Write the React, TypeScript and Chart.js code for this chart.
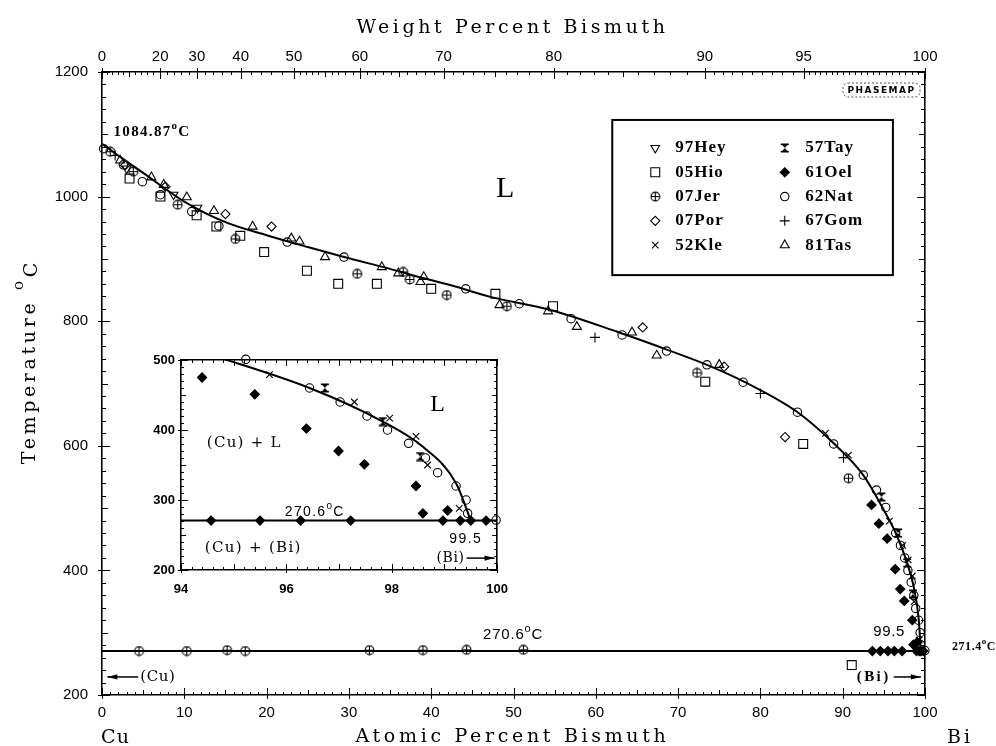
import React, { useEffect, useRef } from 'react';
import { Chart, registerables } from 'chart.js';
import { drawPoint } from 'chart.js/helpers';

Chart.register(...registerables);

// ---------------- data ----------------
const atTicks = [0, 10, 20, 30, 40, 50, 60, 70, 80, 90, 100];
const tempTicks = [200, 400, 600, 800, 1000, 1200];
const wtTicks = [0, 20, 30, 40, 50, 60, 70, 80, 90, 95, 100];
const insetAtTicks = [94, 96, 98, 100];
const insetTempTicks = [200, 300, 400, 500];

const liquidusAt = [0, 2.5, 5, 10, 15, 20, 25, 29.4, 35, 39.1, 42.3, 47.2, 54.5, 62.6, 68.7, 73.5, 78, 84.4, 88.9, 92.5, 94.83, 96.44, 97.83, 98.59, 99.22, 99.5];
const liquidusT = [1084.87, 1061, 1038, 992, 959, 938, 919, 903, 884, 869, 858, 839, 818, 783, 754, 730, 703, 655, 604, 553, 501, 460, 412, 376, 324, 270.6];
const eutecticAt = [0, 100];
const eutecticT = [270.6, 270.6];
const insetEutecticAt = [94, 100];

const hey97: [number, number][] = [[3.0, 1045], [8.7, 1003], [11.6, 982]];
const hio05: [number, number][] = [[3.35, 1029], [7.1, 1000], [11.5, 970], [13.9, 952], [16.8, 937], [19.7, 911], [24.9, 881], [28.7, 860], [33.4, 860], [40.0, 852], [47.8, 844], [54.8, 824], [73.3, 703], [85.2, 603], [91.1, 248]];
const jer07: [number, number][] = [[1.0, 1072], [3.8, 1040], [9.2, 987], [16.2, 932], [31.0, 876], [36.6, 879], [37.4, 867], [41.9, 842], [49.2, 824], [72.3, 717], [90.7, 548], [4.5, 270.6], [10.3, 270.6], [15.2, 272], [17.4, 270.6], [32.5, 272], [39.0, 272], [44.3, 272.5], [51.2, 272.5]];
const por07: [number, number][] = [[2.8, 1050], [7.7, 1016], [15.0, 972], [20.6, 952], [65.7, 790], [75.6, 727], [83.0, 614]];
const kle52: [number, number][] = [[87.9, 620], [90.7, 585], [95.68, 479], [97.29, 440], [97.96, 417], [98.46, 391], [98.68, 350], [99.28, 288]];
const tay57: [number, number][] = [[94.7, 518], [96.73, 460], [97.83, 412], [98.54, 362]];
const oel61: [number, number][] = [[93.5, 505], [94.4, 475], [95.4, 451], [96.38, 402], [96.99, 370], [97.48, 351], [98.46, 320], [98.59, 281], [99.06, 285], [93.6, 270.6], [94.57, 270.6], [95.5, 270.6], [96.27, 270.6], [97.22, 270.6], [98.97, 270.6], [99.3, 270.6], [99.5, 270.6], [99.79, 270.6]];
const nat62: [number, number][] = [[0.2, 1077], [2.6, 1051], [4.9, 1024], [7.1, 1003], [10.9, 976], [14.2, 953], [22.5, 927], [29.4, 903], [44.2, 852], [50.7, 828], [57.0, 804], [63.2, 778], [68.6, 752], [73.5, 730], [77.9, 702], [84.5, 654], [88.9, 603], [92.5, 553], [94.1, 529], [95.23, 501], [96.44, 460], [97.02, 440], [97.53, 420], [97.92, 400], [98.32, 381], [98.64, 360], [98.87, 339], [99.22, 320], [99.41, 300], [99.44, 281], [99.98, 271.4]];
const gom67: [number, number][] = [[1.6, 1066], [59.9, 774], [80.0, 684], [90.1, 581]];
const tas81: [number, number][] = [[2.2, 1058], [6.0, 1031], [7.5, 1019], [10.3, 999], [13.6, 977], [18.3, 952], [23.0, 933], [24.0, 928], [27.1, 903], [34.0, 887], [36.0, 877], [39.1, 871], [38.7, 863], [48.3, 826], [54.2, 816], [57.7, 791], [64.4, 782], [67.4, 745], [75.0, 730]];

const seriesLabels = ['97Hey', '05Hio', '07Jer', '07Por', '52Kle', '57Tay', '61Oel', '62Nat', '67Gom', '81Tas'];
const seriesData = [hey97, hio05, jer07, por07, kle52, tay57, oel61, nat62, gom67, tas81];

// ---------------- styling ----------------
const SANS = '"Liberation Sans", Arial, sans-serif';
const SERIF = '"DejaVu Serif", serif';
const LSERIF = '"Liberation Serif", serif';

function makeOPlus(): HTMLCanvasElement {
  const c = document.createElement('canvas');
  c.width = 11; c.height = 11;
  const g = c.getContext('2d')!;
  g.strokeStyle = '#000'; g.lineWidth = 1.1;
  g.beginPath(); g.arc(5.5, 5.5, 4.4, 0, Math.PI * 2); g.stroke();
  g.beginPath(); g.moveTo(1.1, 5.5); g.lineTo(9.9, 5.5); g.moveTo(5.5, 1.1); g.lineTo(5.5, 9.9); g.stroke();
  return c;
}
function makeHourglass(): HTMLCanvasElement {
  const c = document.createElement('canvas');
  c.width = 10; c.height = 10;
  const g = c.getContext('2d')!;
  g.fillStyle = '#000';
  g.fillRect(1, 0.5, 8, 1.6);
  g.fillRect(1, 7.9, 8, 1.6);
  g.beginPath(); g.moveTo(2, 1.5); g.lineTo(8, 1.5); g.lineTo(5, 5); g.closePath(); g.fill();
  g.beginPath(); g.moveTo(2, 8.5); g.lineTo(8, 8.5); g.lineTo(5, 5); g.closePath(); g.fill();
  return c;
}

type Sty = { pointStyle: any; radius: number; rotation?: number; fill: boolean };
function symbolStyles(): Sty[] {
  const oplus = makeOPlus();
  const hg = makeHourglass();
  return [
    { pointStyle: 'triangle', radius: 5, rotation: 180, fill: false },
    { pointStyle: 'rect', radius: 6.3, fill: false },
    { pointStyle: oplus, radius: 5, fill: false },
    { pointStyle: 'rectRot', radius: 4.6, fill: false },
    { pointStyle: 'crossRot', radius: 4.6, fill: false },
    { pointStyle: hg, radius: 5, fill: true },
    { pointStyle: 'rectRot', radius: 4.6, fill: true },
    { pointStyle: 'circle', radius: 4.2, fill: false },
    { pointStyle: 'cross', radius: 5, fill: false },
    { pointStyle: 'triangle', radius: 5.2, fill: false },
  ];
}

function wtToAt(w: number) {
  if (w <= 0) return 0;
  if (w >= 100) return 100;
  const a = w / 208.98, b = (100 - w) / 63.546;
  return (100 * a) / (a + b);
}

// ---------------- drawing helpers ----------------
type Seg = { t: string; font: string; dy?: number };
function segsWidth(ctx: CanvasRenderingContext2D, segs: Seg[]) {
  let w = 0, n = 0;
  (ctx as any).letterSpacing = '0px';
  for (const s of segs) { ctx.font = s.font; w += ctx.measureText(s.t).width; n += s.t.length; }
  return { w, n };
}
function drawRich(ctx: CanvasRenderingContext2D, segs: Seg[], x: number, y: number, align: 'left' | 'center' | 'right', target?: number, spacing = 0) {
  const { w, n } = segsWidth(ctx, segs);
  let sp = spacing;
  if (target !== undefined) sp = (target - w) / n;
  const total = w + sp * n;
  let cx = align === 'left' ? x : align === 'center' ? x - total / 2 : x - total;
  ctx.textAlign = 'left';
  ctx.textBaseline = 'middle';
  ctx.fillStyle = '#000';
  for (const s of segs) {
    ctx.font = s.font;
    (ctx as any).letterSpacing = '0px';
    const sw = ctx.measureText(s.t).width;
    (ctx as any).letterSpacing = sp + 'px';
    ctx.fillText(s.t, cx, y + (s.dy || 0));
    cx += sw + sp * s.t.length;
  }
  (ctx as any).letterSpacing = '0px';
}
function arrow(ctx: CanvasRenderingContext2D, x1: number, y: number, x2: number) {
  ctx.save();
  ctx.strokeStyle = '#000'; ctx.fillStyle = '#000'; ctx.lineWidth = 1.5;
  ctx.beginPath(); ctx.moveTo(x1, y); ctx.lineTo(x2, y); ctx.stroke();
  const d = Math.sign(x2 - x1);
  ctx.beginPath(); ctx.moveTo(x2, y); ctx.lineTo(x2 - d * 10, y - 2.6); ctx.lineTo(x2 - d * 10, y + 2.6); ctx.closePath(); ctx.fill();
  ctx.restore();
}
type TSpec = { v: number; len: number; out: number };
function tickMarks(ctx: CanvasRenderingContext2D, ca: any, scale: any, side: string, specs: TSpec[]) {
  ctx.save();
  ctx.strokeStyle = '#000'; ctx.lineWidth = 1;
  ctx.beginPath();
  for (const s of specs) {
    const p = Math.round(scale.getPixelForValue(s.v)) + 0.5;
    if (side === 'bottom') { ctx.moveTo(p, ca.bottom + s.out); ctx.lineTo(p, ca.bottom - s.len); }
    if (side === 'top') { ctx.moveTo(p, ca.top - s.out); ctx.lineTo(p, ca.top + s.len); }
    if (side === 'left') { ctx.moveTo(ca.left - s.out, p); ctx.lineTo(ca.left + s.len, p); }
    if (side === 'right') { ctx.moveTo(ca.right + s.out, p); ctx.lineTo(ca.right - s.len, p); }
  }
  ctx.stroke();
  ctx.restore();
}
function range(a: number, b: number, step: number) {
  const out: number[] = [];
  const n = Math.round((b - a) / step);
  for (let i = 0; i <= n; i++) out.push(Math.round((a + i * step) * 1e6) / 1e6);
  return out;
}

function bottomSpecs(): TSpec[] {
  return range(0, 100, 1).map(v => ({ v, len: v % 10 === 0 ? 7 : v % 5 === 0 ? 5 : 3, out: v % 10 === 0 ? 4 : 0 }));
}
function topSpecs(): TSpec[] {
  const ws: number[] = [];
  for (let w = 0; w < 50; w += 2) ws.push(w);
  for (let w = 50; w < 90; w += 1) ws.push(w);
  for (let i = 0; i < 10; i++) ws.push(90 + i * 0.5);
  for (let i = 0; i <= 20; i++) ws.push(95 + i * 0.25);
  return ws.map(w => {
    const lab = wtTicks.includes(w);
    const mid = w % 5 === 0;
    return { v: wtToAt(w), len: lab ? 7 : mid ? 5 : 3, out: lab ? 4 : 0 };
  });
}
function tempSpecs(out: boolean): TSpec[] {
  return range(200, 1200, 20).map(t => ({ v: t, len: t % 200 === 0 ? 8 : t % 100 === 0 ? 6 : 4, out: out && t % 200 === 0 ? 4 : 0 }));
}

function toPts(d: [number, number][]) { return d.map(p => ({ x: p[0], y: p[1] })); }

function scatterSets(styles: Sty[], xId: string, yId: string, filter?: (p: [number, number]) => boolean) {
  return seriesData.map((d, i) => {
    const s = styles[i];
    const data = filter ? d.filter(filter) : d;
    return {
      type: 'scatter' as const,
      label: seriesLabels[i],
      data: toPts(data),
      xAxisID: xId,
      yAxisID: yId,
      pointStyle: s.pointStyle,
      pointRadius: s.radius,
      rotation: s.rotation || 0,
      pointBorderColor: '#000',
      pointBackgroundColor: s.fill ? '#000' : 'rgba(0,0,0,0)',
      pointBorderWidth: 1.1,
      showLine: false,
      clip: false as any,
      order: 2,
    };
  });
}

const axisBase = (extra: any) => ({
  type: 'linear',
  grid: { display: false, drawTicks: false },
  border: { display: true, color: '#000', width: 1.6 },
  ...extra,
});
const plainLabel = (v: any) => String(v);

function mainConfig(styles: Sty[]): any {
  const liq = liquidusAt.map((x, i) => ({ x, y: liquidusT[i] }));
  const eut = eutecticAt.map((x, i) => ({ x, y: eutecticT[i] }));
  const decor = {
    id: 'mainDecor',
    beforeDraw(chart: any) {
      const ctx = chart.ctx;
      ctx.save(); ctx.fillStyle = '#fff'; ctx.fillRect(0, 0, chart.width, chart.height); ctx.restore();
    },
    afterDraw(chart: any) {
      const ctx: CanvasRenderingContext2D = chart.ctx;
      const ca = chart.chartArea;
      const xs = chart.scales.x, ys = chart.scales.y, xt = chart.scales.xt;
      const X = (v: number) => xs.getPixelForValue(v);
      const Y = (v: number) => ys.getPixelForValue(v);
      tickMarks(ctx, ca, xs, 'bottom', bottomSpecs());
      tickMarks(ctx, ca, xt, 'top', topSpecs());
      tickMarks(ctx, ca, ys, 'left', tempSpecs(true));
      tickMarks(ctx, ca, ys, 'right', tempSpecs(false));

      // axis titles
      drawRich(ctx, [{ t: 'Weight Percent Bismuth', font: `19px ${SERIF}` }], (ca.left + ca.right) / 2 - 1, 28, 'center', 312);
      drawRich(ctx, [{ t: 'Atomic Percent Bismuth', font: `19px ${SERIF}` }], (ca.left + ca.right) / 2 - 1, 737, 'center', 314);
      drawRich(ctx, [{ t: 'Cu', font: `19px ${SERIF}` }], ca.left - 1, 738, 'left', 29);
      drawRich(ctx, [{ t: 'Bi', font: `19px ${SERIF}` }], ca.right + 22, 738, 'left', 26);
      ctx.save();
      ctx.translate(30, Y(735));
      ctx.rotate(-Math.PI / 2);
      drawRich(ctx, [
        { t: 'Temperature ', font: `19px ${SERIF}` },
        { t: 'o', font: `15px ${SERIF}`, dy: -11 },
        { t: 'C', font: `19px ${SERIF}`, dy: 2 },
      ], 0, 0, 'center', 205);
      ctx.restore();

      // annotations
      drawRich(ctx, [
        { t: '1084.87', font: `bold 15px ${LSERIF}` },
        { t: 'o', font: `bold 11px ${LSERIF}`, dy: -6 },
        { t: 'C', font: `bold 15px ${LSERIF}` },
      ], X(1.4), Y(1104), 'left', 77);
      drawRich(ctx, [{ t: 'L', font: `30px ${LSERIF}` }], X(49), Y(1012), 'center');
      drawRich(ctx, [
        { t: '270.6', font: `15px ${SANS}` },
        { t: 'o', font: `11px ${SANS}`, dy: -6 },
        { t: 'C', font: `15px ${SANS}` },
      ], X(46.3), Y(296), 'left', 60);
      drawRich(ctx, [{ t: '99.5', font: `15px ${SANS}` }], X(93.7), Y(301), 'left', 32);
      drawRich(ctx, [{ t: '(Bi)', font: `bold 15px ${LSERIF}` }], X(91.7), Y(229), 'left', 34);
      arrow(ctx, X(96.2), Y(229), X(99.5));
      arrow(ctx, X(4.4), Y(229), X(0.65));
      drawRich(ctx, [{ t: '(Cu)', font: `15px ${SERIF}` }], X(4.65), Y(229), 'left', 35);
      drawRich(ctx, [
        { t: '271.4', font: `bold 12px ${LSERIF}` },
        { t: 'o', font: `bold 9px ${LSERIF}`, dy: -5 },
        { t: 'C', font: `bold 12px ${LSERIF}` },
      ], ca.right + 27, Y(277), 'left', 44);

      // PHASEMAP stamp
      ctx.save();
      ctx.strokeStyle = '#555'; ctx.lineWidth = 1; ctx.setLineDash([2, 2]);
      const bx = ca.right - 82, by = ca.top + 11, bw = 77, bh = 14;
      ctx.beginPath();
      (ctx as any).roundRect ? (ctx as any).roundRect(bx, by, bw, bh, 5) : ctx.rect(bx, by, bw, bh);
      ctx.stroke();
      ctx.restore();
      drawRich(ctx, [{ t: 'PHASEMAP', font: `bold 9px "DejaVu Sans", sans-serif` }], bx + bw / 2, by + bh / 2 + 0.5, 'center', 68);

      // legend box
      const lx1 = X(62.0), lx2 = X(96.1), ly1 = Y(1123), ly2 = Y(874);
      ctx.save();
      ctx.strokeStyle = '#000'; ctx.lineWidth = 2;
      ctx.strokeRect(lx1, ly1, lx2 - lx1, ly2 - ly1);
      ctx.restore();
      const rowY = (i: number) => ly1 + 28 + i * 24.3;
      for (let i = 0; i < seriesLabels.length; i++) {
        const col = i < 5 ? 0 : 1;
        const row = i % 5;
        const sx = lx1 + (col === 0 ? 43 : 172.5);
        const tx = lx1 + (col === 0 ? 63 : 193);
        const y = rowY(row);
        const s = styles[i];
        ctx.save();
        ctx.strokeStyle = '#000';
        ctx.fillStyle = s.fill ? '#000' : 'rgba(0,0,0,0)';
        ctx.lineWidth = 1.1;
        drawPoint(ctx, { pointStyle: s.pointStyle, rotation: s.rotation || 0, radius: s.radius, borderWidth: 1.1 } as any, sx, y);
        ctx.restore();
        drawRich(ctx, [{ t: seriesLabels[i], font: `bold 17px ${LSERIF}` }], tx, y, 'left', undefined, 1);
      }
    },
  };

  return {
    type: 'scatter',
    data: {
      datasets: [
        { type: 'scatter', label: 'liquidus', data: liq, xAxisID: 'x', yAxisID: 'y', showLine: true, borderColor: '#000', borderWidth: 2, pointRadius: 0, cubicInterpolationMode: 'monotone', fill: false, order: 1, clip: 0 },
        { type: 'scatter', label: 'eutectic', data: eut, xAxisID: 'x', yAxisID: 'y', showLine: true, borderColor: '#000', borderWidth: 2, pointRadius: 0, fill: false, order: 1, clip: 0 },
        ...scatterSets(styles, 'x', 'y'),
      ],
    },
    options: {
      animation: false,
      responsive: false,
      devicePixelRatio: 1,
      events: [],
      layout: { padding: 0 },
      plugins: { legend: { display: false }, tooltip: { enabled: false }, title: { display: false } },
      scales: {
        x: axisBase({
          position: 'bottom', min: 0, max: 100,
          afterBuildTicks: (a: any) => { a.ticks = atTicks.map(v => ({ value: v })); },
          ticks: { color: '#000', font: { family: SANS, size: 15 }, padding: 9, autoSkip: false, maxRotation: 0, callback: plainLabel },
          afterFit: (a: any) => { a.height = 51; },
        }),
        xt: axisBase({
          position: 'top', min: 0, max: 100,
          afterBuildTicks: (a: any) => { a.ticks = wtTicks.map(w => ({ value: wtToAt(w) })); },
          ticks: { color: '#000', font: { family: SANS, size: 15 }, padding: 6, autoSkip: false, maxRotation: 0, callback: (_v: any, i: number) => String(wtTicks[i]) },
          afterFit: (a: any) => { a.height = 72; },
        }),
        y: axisBase({
          position: 'left', min: 200, max: 1200,
          afterBuildTicks: (a: any) => { a.ticks = tempTicks.map(v => ({ value: v })); },
          ticks: { color: '#000', font: { family: SANS, size: 15 }, padding: 14, autoSkip: false, callback: plainLabel },
          afterFit: (a: any) => { a.width = 102; },
        }),
        yr: axisBase({
          position: 'right', min: 200, max: 1200,
          ticks: { display: false },
          afterFit: (a: any) => { a.width = 71; },
        }),
      },
    },
    plugins: [decor],
  };
}

function insetConfig(styles: Sty[]): any {
  const liq = liquidusAt.map((x, i) => ({ x, y: liquidusT[i] })).filter(p => p.x >= 90);
  const eut = insetEutecticAt.map((x, i) => ({ x, y: eutecticT[i] }));
  const inRange = (p: [number, number]) => p[0] >= 94 && p[0] <= 100 && p[1] >= 200 && p[1] <= 502;
  const decor = {
    id: 'insetDecor',
    beforeDraw(chart: any) {
      const ctx = chart.ctx; const ca = chart.chartArea;
      ctx.save(); ctx.fillStyle = '#fff'; ctx.fillRect(ca.left, ca.top, ca.right - ca.left, ca.bottom - ca.top); ctx.restore();
    },
    afterDraw(chart: any) {
      const ctx: CanvasRenderingContext2D = chart.ctx;
      const ca = chart.chartArea;
      const xs = chart.scales.ix, ys = chart.scales.iy;
      const X = (v: number) => xs.getPixelForValue(v);
      const Y = (v: number) => ys.getPixelForValue(v);
      const xsp = range(94, 100, 0.2).map(v => {
        const isInt = Math.abs(v - Math.round(v)) < 1e-6;
        return { v, len: isInt ? 6 : 3, out: isInt && Math.round(v) % 2 === 0 ? 3 : 0 };
      });
      const ysp = range(200, 500, 10).map(t => ({ v: t, len: t % 100 === 0 ? 7 : t % 50 === 0 ? 5 : 3, out: t % 100 === 0 ? 3 : 0 }));
      tickMarks(ctx, ca, xs, 'bottom', xsp);
      tickMarks(ctx, ca, xs, 'top', xsp.map(s => ({ ...s, out: 0 })));
      tickMarks(ctx, ca, ys, 'left', ysp);
      tickMarks(ctx, ca, ys, 'right', ysp.map(s => ({ ...s, out: 0 })));

      drawRich(ctx, [{ t: 'L', font: `24px ${LSERIF}` }], X(98.87), Y(436), 'center');
      drawRich(ctx, [{ t: '(Cu) + L', font: `15px ${SERIF}` }], X(94.49), Y(381), 'left', 75);
      drawRich(ctx, [
        { t: '270.6', font: `14px ${SANS}` },
        { t: 'o', font: `10px ${SANS}`, dy: -6 },
        { t: 'C', font: `14px ${SANS}` },
      ], X(95.97), Y(283), 'left', 60);
      drawRich(ctx, [{ t: '(Cu) + (Bi)', font: `15px ${SERIF}` }], X(94.45), Y(231.5), 'left', 97);
      drawRich(ctx, [{ t: '99.5', font: `14px ${SANS}` }], X(99.09), Y(244), 'left', 33);
      drawRich(ctx, [{ t: '(Bi)', font: `14px ${SERIF}` }], X(98.85), Y(217), 'left', 28);
      arrow(ctx, X(99.42), Y(217), X(99.95));
    },
  };
  return {
    type: 'scatter',
    data: {
      datasets: [
        { type: 'scatter', label: 'liquidus', data: liq, xAxisID: 'ix', yAxisID: 'iy', showLine: true, borderColor: '#000', borderWidth: 2, pointRadius: 0, cubicInterpolationMode: 'monotone', fill: false, order: 1, clip: 0 },
        { type: 'scatter', label: 'eutectic', data: eut, xAxisID: 'ix', yAxisID: 'iy', showLine: true, borderColor: '#000', borderWidth: 2, pointRadius: 0, fill: false, order: 1, clip: 0 },
        ...scatterSets(styles, 'ix', 'iy', inRange),
      ],
    },
    options: {
      animation: false,
      responsive: false,
      devicePixelRatio: 1,
      events: [],
      layout: { padding: 0 },
      plugins: { legend: { display: false }, tooltip: { enabled: false }, title: { display: false } },
      scales: {
        ix: axisBase({
          axis: 'x',
          position: 'bottom', min: 94, max: 100,
          afterBuildTicks: (a: any) => { a.ticks = insetAtTicks.map(v => ({ value: v })); },
          ticks: { color: '#000', font: { family: SANS, size: 13, weight: 'bold' }, padding: 12, autoSkip: false, maxRotation: 0, callback: plainLabel },
          afterFit: (a: any) => { a.height = 40; },
        }),
        ixt: axisBase({
          axis: 'x',
          position: 'top', min: 94, max: 100,
          ticks: { display: false },
          afterFit: (a: any) => { a.height = 20; },
        }),
        iy: axisBase({
          axis: 'y',
          position: 'left', min: 200, max: 500,
          afterBuildTicks: (a: any) => { a.ticks = insetTempTicks.map(v => ({ value: v })); },
          ticks: { color: '#000', font: { family: SANS, size: 13, weight: 'bold' }, padding: 6, autoSkip: false, callback: plainLabel },
          afterFit: (a: any) => { a.width = 51; },
        }),
        iyr: axisBase({
          axis: 'y',
          position: 'right', min: 200, max: 500,
          ticks: { display: false },
          afterFit: (a: any) => { a.width = 22; },
        }),
      },
    },
    plugins: [decor],
  };
}

export default function App() {
  const mainRef = useRef<HTMLCanvasElement>(null);
  const insetRef = useRef<HTMLCanvasElement>(null);
  useEffect(() => {
    const styles = symbolStyles();
    const m = new Chart(mainRef.current!, mainConfig(styles));
    const i = new Chart(insetRef.current!, insetConfig(styles));
    return () => { m.destroy(); i.destroy(); };
  }, []);
  return (
    <div style={{ position: 'absolute', left: 0, top: 0, width: 996, height: 746, background: '#fff', overflow: 'hidden' }}>
      <canvas ref={mainRef} width={996} height={746} style={{ position: 'absolute', left: 0, top: 0, width: 996, height: 746 }} />
      <canvas ref={insetRef} width={390} height={270} style={{ position: 'absolute', left: 130, top: 340, width: 390, height: 270 }} />
    </div>
  );
}
